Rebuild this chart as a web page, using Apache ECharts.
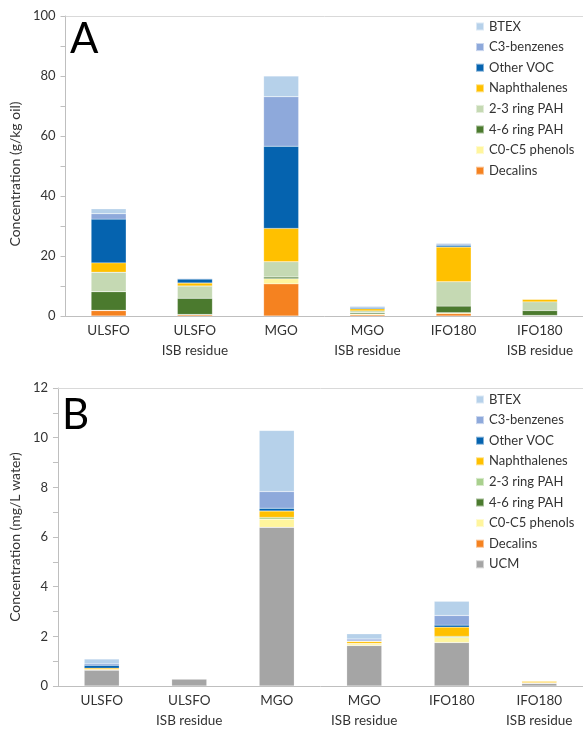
<!DOCTYPE html>
<html>
<head>
<meta charset="utf-8">
<script src="https://cdn.jsdelivr.net/npm/echarts@6/dist/echarts.min.js"></script>
<style>
html,body{margin:0;padding:0;background:#fff;}
#a{width:583px;height:366px;}
#b{width:583px;height:365px;}
</style>
</head>
<body>
<div id="a"></div>
<div id="b"></div>
<script>
const categories = ['ULSFO', 'ULSFO\nISB residue', 'MGO', 'MGO\nISB residue', 'IFO180', 'IFO180\nISB residue'];

// Panel A (g/kg oil), stacking order bottom -> top
const aDecalins = [1.8, 0.4, 10.7, 0.4, 0.8, 0.1];
const aPhenols  = [0.1, 0.1, 1.7, 0.3, 0.3, 0.1];
const aPAH46    = [6.2, 5.4, 0.6, 0.4, 2.2, 1.6];
const aPAH23    = [6.5, 4.1, 5.1, 0.6, 8.1, 2.9];
const aNaph     = [3.1, 1.0, 11.1, 0.7, 11.6, 0.9];
const aOtherVOC = [14.6, 1.3, 27.4, 0.4, 0.6, 0.1];
const aC3       = [1.8, 0.2, 16.5, 0.3, 0.4, 0.1];
const aBTEX     = [1.6, 0.1, 6.9, 0.3, 0.3, 0.1];

// Panel B (mg/L water)
const bUCM      = [0.64, 0.29, 6.39, 1.63, 1.75, 0.11];
const bDecalins = [0, 0, 0, 0, 0, 0];
const bPhenols  = [0.02, 0, 0.33, 0.07, 0.21, 0.02];
const bPAH46    = [0, 0, 0, 0, 0, 0];
const bPAH23    = [0.01, 0, 0.07, 0.01, 0.04, 0];
const bNaph     = [0.05, 0, 0.26, 0.08, 0.37, 0.07];
const bOtherVOC = [0.11, 0, 0.11, 0.02, 0.08, 0];
const bC3       = [0.06, 0.02, 0.67, 0.08, 0.39, 0];
const bBTEX     = [0.20, 0.01, 2.46, 0.21, 0.57, 0];

const yTicksA = [0, 20, 40, 60, 80, 100];
const yTicksB = [0, 2, 4, 6, 8, 10, 12];

const FONT = 'Lato, "Noto Sans", sans-serif';
const TXT = '#333333';
const AX = '#bfbfbf';

function makeOption(letter, yName, yMax, yInt, series, legendNames, cfg) {
  return {
    animation: false,
    textStyle: {fontFamily: FONT},
    title: {text: letter, left: cfg.titleLeft, top: cfg.titleTop,
      textStyle: {fontSize: 42, fontWeight: 'normal', color: '#000', fontFamily: FONT}},
    legend: {
      orient: 'vertical', left: 470, top: cfg.legendTop,
      data: legendNames, icon: 'rect', itemWidth: 8, itemHeight: 8, itemGap: 7.6,
      textStyle: {fontSize: 13, color: TXT, fontFamily: FONT},
      selectedMode: false
    },
    grid: {left: 55, right: -5, top: cfg.gridTop, height: 300},
    xAxis: [{
      type: 'category', data: categories,
      axisLine: {lineStyle: {color: AX, width: 1}},
      axisTick: {show: false},
      axisLabel: {color: TXT, fontSize: 13.5, lineHeight: 20, margin: 5, fontFamily: FONT, interval: 0}
    }, {
      type: 'category', data: categories, position: 'top',
      axisLine: {show: true, lineStyle: {color: '#d9d9d9', width: 1}},
      axisTick: {show: false}, axisLabel: {show: false}
    }],
    yAxis: {
      type: 'value', min: 0, max: yMax, interval: yInt,
      name: yName, nameLocation: 'middle', nameGap: 28,
      nameTextStyle: {fontSize: 14, color: TXT, fontFamily: FONT, padding: cfg.namePad},
      axisLine: {show: true, lineStyle: {color: AX}},
      axisTick: {show: true, inside: false, length: 5, lineStyle: {color: AX}},
      minorTick: {show: true, splitNumber: 2, length: 5, lineStyle: {color: AX}},
      splitLine: {show: false},
      axisLabel: {color: TXT, fontSize: 13, margin: 10, fontFamily: FONT}
    },
    series: series.map(s => ({
      type: 'bar', name: s[0], stack: 'tot', data: s[1], barWidth: 35,
      itemStyle: {color: s[2], borderColor: 'rgba(255,255,255,0.5)', borderWidth: 0.4},
      emphasis: {disabled: true}
    }))
  };
}

const seriesA = [
  ['Decalins', aDecalins, '#F58220'],
  ['C0-C5 phenols', aPhenols, '#FFF59D'],
  ['4-6 ring PAH', aPAH46, '#4B7A2E'],
  ['2-3 ring PAH', aPAH23, '#C5D9B3'],
  ['Naphthalenes', aNaph, '#FFC000'],
  ['Other VOC', aOtherVOC, '#0563AF'],
  ['C3-benzenes', aC3, '#8EA9DB'],
  ['BTEX', aBTEX, '#B6D1EA']
];
const seriesB = [
  ['UCM', bUCM, '#A5A5A5'],
  ['Decalins', bDecalins, '#F58220'],
  ['C0-C5 phenols', bPhenols, '#FFF59D'],
  ['4-6 ring PAH', bPAH46, '#4B7A2E'],
  ['2-3 ring PAH', bPAH23, '#A9D08E'],
  ['Naphthalenes', bNaph, '#FFC000'],
  ['Other VOC', bOtherVOC, '#0563AF'],
  ['C3-benzenes', bC3, '#8EA9DB'],
  ['BTEX', bBTEX, '#B6D1EA']
];

const legA = ['BTEX', 'C3-benzenes', 'Other VOC', 'Naphthalenes', '2-3 ring PAH', '4-6 ring PAH', 'C0-C5 phenols', 'Decalins'];
const legB = legA.concat(['UCM']);

const ca = echarts.init(document.getElementById('a'), null, {renderer: 'canvas'});
ca.setOption(makeOption('A', 'Concentration (g/kg oil)', yTicksA[yTicksA.length - 1], yTicksA[1] - yTicksA[0], seriesA, legA,
  {titleLeft: 65, titleTop: 13, legendTop: 15, gridTop: 16, namePad: [0, 16, 0, 0]}));
const cb = echarts.init(document.getElementById('b'), null, {renderer: 'canvas'});
cb.setOption(makeOption('B', 'Concentration (mg/L water)', yTicksB[yTicksB.length - 1], yTicksB[1] - yTicksB[0], seriesB, legB,
  {titleLeft: 57, titleTop: 23, legendTop: 22, gridTop: 22, namePad: [0, 0, 0, 0]}));
</script>
</body>
</html>
